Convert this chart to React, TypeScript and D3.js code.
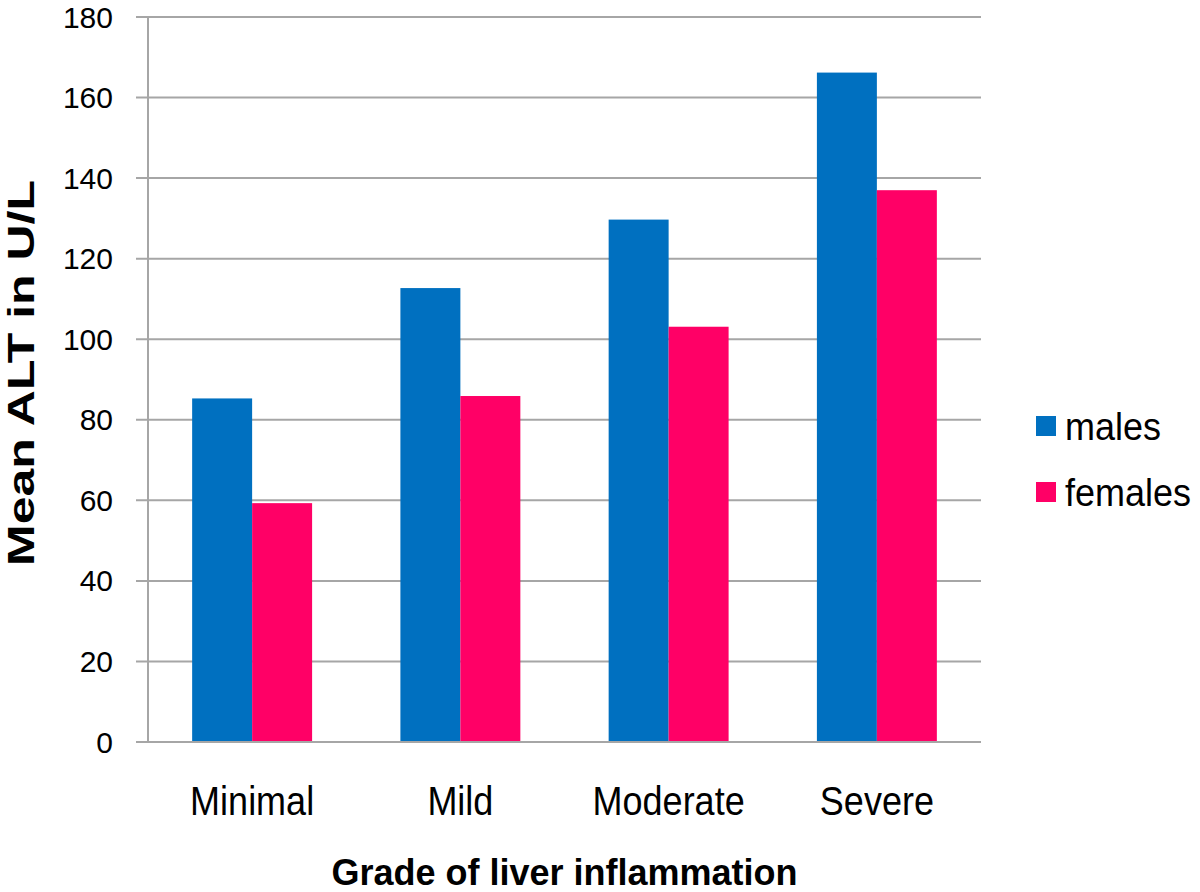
import React from "react";
import * as d3 from "d3";

const categories = ["Minimal", "Mild", "Moderate", "Severe"];
const seriesNames = ["males", "females"];
const malesValues = [85.3, 112.7, 129.7, 166.2];
const femalesValues = [59.3, 85.9, 103.1, 137.0];
const yTicks = [0, 20, 40, 60, 80, 100, 120, 140, 160, 180];
const colors = ["#0070C0", "#FF0066"];

const W = 1200;
const H = 892;
const plot = { left: 148, right: 981, top: 17, bottom: 742 };
const FONT = "'Liberation Sans', Arial, Helvetica, sans-serif";

export default function App() {
  const x = d3
    .scaleBand<string>()
    .domain(categories)
    .range([plot.left, plot.right])
    .paddingInner(0.424)
    .paddingOuter(0.212);
  const xs = d3
    .scaleBand<string>()
    .domain(seriesNames)
    .range([0, x.bandwidth()]);
  const y = d3.scaleLinear().domain([0, 180]).range([plot.bottom, plot.top]);
  const series = [malesValues, femalesValues];
  const gridColor = "#a6a6a6";

  return (
    <div style={{ position: "absolute", left: 0, top: 0 }}>
      <svg width={W} height={H} style={{ display: "block", background: "#fff" }}>
        {yTicks.map((t) => (
          <g key={t}>
            <line
              x1={plot.left - 12}
              x2={plot.right}
              y1={y(t)}
              y2={y(t)}
              stroke={gridColor}
              strokeWidth={2}
            />
            <text
              x={113}
              y={y(t)}
              textAnchor="end"
              dominantBaseline="central"
              fontFamily={FONT}
              fontSize={30}
              fill="#000"
            >
              {t}
            </text>
          </g>
        ))}
        <line
          x1={plot.left}
          x2={plot.left}
          y1={plot.top}
          y2={plot.bottom}
          stroke={gridColor}
          strokeWidth={2}
        />
        {categories.map((c, i) => (
          <g key={c}>
            {series.map((vals, si) => (
              <rect
                key={si}
                x={(x(c) as number) + (xs(seriesNames[si]) as number)}
                y={y(vals[i])}
                width={xs.bandwidth()}
                height={plot.bottom - y(vals[i])}
                fill={colors[si]}
              />
            ))}
            <text
              transform={`translate(${(x(c) as number) + x.bandwidth() / 2}, 815) scale(1, 1.12)`}
              textAnchor="middle"
              fontFamily={FONT}
              fontSize={36}
              fill="#000"
            >
              {c}
            </text>
          </g>
        ))}
        <line
          x1={plot.left - 12}
          x2={plot.right}
          y1={plot.bottom}
          y2={plot.bottom}
          stroke={gridColor}
          strokeWidth={2}
        />
        <text
          x={(plot.left + plot.right) / 2}
          y={885}
          textAnchor="middle"
          fontFamily={FONT}
          fontSize={36}
          fontWeight="bold"
          fill="#000"
        >
          Grade of liver inflammation
        </text>
        <text
          transform={`translate(34, 373) rotate(-90)`}
          textAnchor="middle"
          fontFamily={FONT}
          fontSize={36}
          fontWeight="bold"
          textLength={386}
          lengthAdjust="spacingAndGlyphs"
          fill="#000"
        >
          Mean ALT in U/L
        </text>
        {seriesNames.map((s, i) => (
          <g key={s} transform={`translate(1036, ${416 + i * 66})`}>
            <rect x={0} y={0} width={20} height={20} fill={colors[i]} />
            <text
              transform="translate(29, 24) scale(1, 1.08)"
              fontFamily={FONT}
              fontSize={36}
              fill="#000"
            >
              {s}
            </text>
          </g>
        ))}
      </svg>
    </div>
  );
}
